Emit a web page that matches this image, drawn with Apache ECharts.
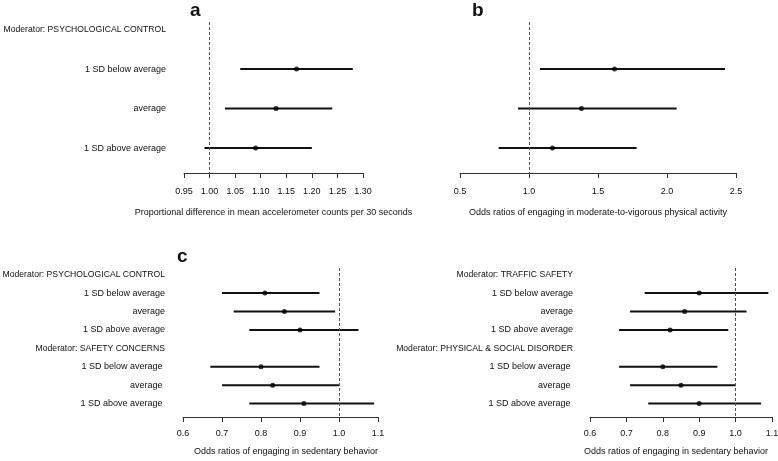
<!DOCTYPE html>
<html>
<head>
<meta charset="utf-8">
<script src="https://cdn.jsdelivr.net/npm/echarts@6/dist/echarts.min.js"></script>
<style>
  html, body { margin: 0; padding: 0; background: #fff; }
  #chart { width: 778px; height: 461px; }
</style>
</head>
<body>
<div id="chart"></div>
<script>
// panels a & b: rows (moderator label first)
const rowsAB = ['Moderator: PSYCHOLOGICAL CONTROL', '1 SD below average', 'average', '1 SD above average'];
const aEst = [null, 1.17, 1.13, 1.09];
const aLow = [null, 1.06, 1.03, 0.99];
const aHigh = [null, 1.28, 1.24, 1.20];
const bEst = [null, 1.62, 1.38, 1.17];
const bLow = [null, 1.08, 0.92, 0.78];
const bHigh = [null, 2.42, 2.07, 1.78];

// panel c left / right
const rowsC1 = ['Moderator: PSYCHOLOGICAL CONTROL', '1 SD below average', 'average', '1 SD above average',
  'Moderator: SAFETY CONCERNS', '1 SD below average ', 'average ', '1 SD above average '];
const c1Est = [null, 0.81, 0.86, 0.90, null, 0.80, 0.83, 0.91];
const c1Low = [null, 0.70, 0.73, 0.77, null, 0.67, 0.70, 0.77];
const c1High = [null, 0.95, 0.99, 1.05, null, 0.95, 1.00, 1.09];
const rowsC2 = ['Moderator: TRAFFIC SAFETY', '1 SD below average', 'average', '1 SD above average',
  'Moderator: PHYSICAL & SOCIAL DISORDER', '1 SD below average ', 'average ', '1 SD above average '];
const c2Est = [null, 0.90, 0.86, 0.82, null, 0.80, 0.85, 0.90];
const c2Low = [null, 0.75, 0.71, 0.68, null, 0.68, 0.71, 0.76];
const c2High = [null, 1.09, 1.03, 0.98, null, 0.95, 1.00, 1.07];

// tick settings
const aTicks = { min: 0.95, max: 1.30, interval: 0.05, digits: 2 };
const bTicks = { min: 0.5, max: 2.5, interval: 0.5, digits: 1 };
const cTicks = { min: 0.6, max: 1.1, interval: 0.1, digits: 1 };

const FONT = 'Liberation Sans, Arial, sans-serif';

const myChart = echarts.init(document.getElementById('chart'));

function xAxisFor (idx, ticks, name, labelMargin, nameGap, namePad) {
  return {
    type: 'value',
    gridIndex: idx,
    min: ticks.min,
    max: ticks.max,
    interval: ticks.interval,
    name: name,
    nameLocation: 'middle',
    nameGap: nameGap,
    nameTextStyle: { fontFamily: FONT, fontSize: 9, color: '#111', padding: namePad || 0 },
    axisLine: { show: true, lineStyle: { color: '#333', width: 1 } },
    axisTick: { show: true, length: 5, lineStyle: { color: '#333' } },
    axisLabel: {
      margin: labelMargin,
      fontFamily: FONT,
      fontSize: 9,
      color: '#111',
      formatter: v => v.toFixed(ticks.digits)
    },
    splitLine: { show: false }
  };
}

function yAxisFor (idx, rows, min, max, showLabels, margin) {
  return {
    type: 'value',
    gridIndex: idx,
    inverse: true,
    min: min,
    max: max,
    axisLine: { show: false },
    axisTick: { show: false },
    splitLine: { show: false },
    axisLabel: {
      show: showLabels,
      customValues: rows.map((r, i) => i + 1),
      margin: margin,
      align: 'right',
      fontFamily: FONT,
      fontSize: 9,
      color: '#111',
      formatter: v => {
        const txt = rows[Math.round(v) - 1];
        // the moderator headings are set a touch narrower in the original
        return txt.indexOf('Moderator') === 0 ? '{m|' + txt + '}' : txt;
      },
      rich: {
        m: { fontFamily: FONT, fontSize: 8.65, color: '#111' }
      }
    }
  };
}

function barSeries (idx, low, high) {
  const data = [];
  low.forEach((l, i) => {
    if (l !== null) data.push([i + 1, l, high[i]]);
  });
  return {
    type: 'custom',
    xAxisIndex: idx,
    yAxisIndex: idx,
    encode: { x: [1, 2], y: 0 },
    data: data,
    renderItem (params, api) {
      const y = api.value(0);
      const p1 = api.coord([api.value(1), y]);
      const p2 = api.coord([api.value(2), y]);
      return {
        type: 'line',
        shape: { x1: p1[0], y1: p1[1], x2: p2[0], y2: p2[1] },
        style: { stroke: '#111', lineWidth: 2 }
      };
    },
    silent: true
  };
}

function pointSeries (idx, est) {
  const data = [];
  est.forEach((e, i) => {
    if (e !== null) data.push([e, i + 1]);
  });
  return {
    type: 'scatter',
    xAxisIndex: idx,
    yAxisIndex: idx,
    data: data,
    symbol: 'circle',
    symbolSize: 5,
    itemStyle: { color: '#000' },
    z: 3,
    markLine: {
      silent: true,
      symbol: ['none', 'none'],
      label: { show: false },
      lineStyle: { color: '#555', type: [3, 2], width: 1 },
      data: [{ xAxis: 1 }]
    }
  };
}

const titleStyle = { fontFamily: FONT, fontSize: 19, fontWeight: 'bold', color: '#111' };

let option = {
  animation: false,
  backgroundColor: '#fff',
  title: [
    { text: 'a', left: 185, top: -4, textStyle: titleStyle },
    { text: 'b', left: 467, top: -4, textStyle: titleStyle },
    { text: 'c', left: 172, top: 242, textStyle: titleStyle }
  ],
  grid: [
    { left: 184, top: 22, width: 179, height: 151, outerBoundsMode: 'none' },
    { left: 460, top: 22, width: 276, height: 151, outerBoundsMode: 'none' },
    { left: 183, top: 268, width: 195, height: 149, outerBoundsMode: 'none' },
    { left: 590, top: 268, width: 182, height: 149, outerBoundsMode: 'none' }
  ],
  xAxis: [
    xAxisFor(0, aTicks, 'Proportional difference in mean accelerometer counts per 30 seconds', 14, 35),
    xAxisFor(1, bTicks, 'Odds ratios of engaging in moderate-to-vigorous physical activity', 14, 35),
    xAxisFor(2, cTicks, 'Odds ratios of engaging in sedentary behavior', 12, 30, [0, 0, 0, 11]),
    xAxisFor(3, cTicks, 'Odds ratios of engaging in sedentary behavior', 12, 30, [0, 10, 0, 0])
  ],
  yAxis: [
    yAxisFor(0, rowsAB, 0.81, 4.63, true, 18),
    yAxisFor(1, rowsAB, 0.81, 4.63, false, 18),
    yAxisFor(2, rowsC1, 0.64, 8.73, true, 18),
    yAxisFor(3, rowsC2, 0.64, 8.73, true, 17)
  ],
  series: [
    barSeries(0, aLow, aHigh), pointSeries(0, aEst),
    barSeries(1, bLow, bHigh), pointSeries(1, bEst),
    barSeries(2, c1Low, c1High), pointSeries(2, c1Est),
    barSeries(3, c2Low, c2High), pointSeries(3, c2Est)
  ]
};

myChart.setOption(option);
window.onresize = () => {
  myChart.resize();
};
</script>
</body>
</html>
